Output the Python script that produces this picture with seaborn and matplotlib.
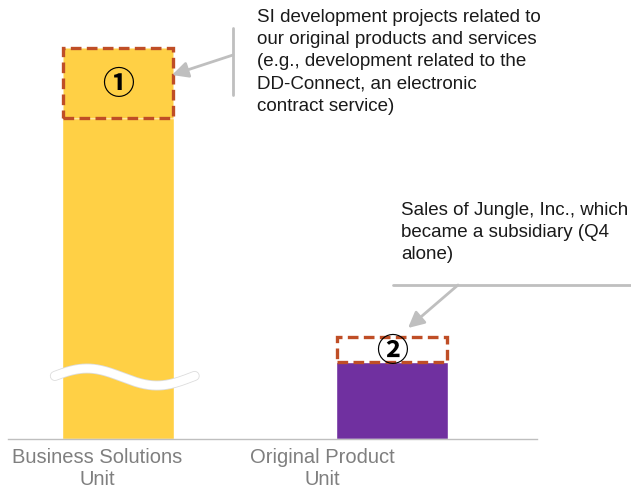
import numpy as np
import matplotlib
matplotlib.use("Agg")
import matplotlib.pyplot as plt
import matplotlib.patheffects as pe
import seaborn as sns
import pandas as pd

# Segment sizes (relative units)
categories = ["Business Solutions\nUnit", "Original Product\nUnit"]
base_values = [321, 77]
highlight_values = [70, 25]
bar_colors = ["#FFD045", "#7030A0"]
highlight_fill = ["#FFD045", "#FFFFFF"]
markers = ["①", "②"]
note_texts = [
    "SI development projects related to\nour original products and services\n(e.g., development related to the\nDD-Connect, an electronic\ncontract service)",
    "Sales of Jungle, Inc., which\nbecame a subsidiary (Q4\nalone)",
]

sns.set_theme(style="white")
plt.rcParams["font.family"] = ["Liberation Sans", "DejaVu Sans"]

W, H = 631, 493
fig = plt.figure(figsize=(W / 100, H / 100), dpi=100)
ax = fig.add_axes([8 / W, 54 / H, 529 / W, 439 / H])

df = pd.DataFrame({"unit": categories, "value": base_values})
bar_w = 0.41
sns.barplot(data=df, x="unit", y="value", hue="unit", palette=bar_colors,
            width=bar_w, legend=False, saturation=1, ax=ax)

# Highlighted top segments outlined with dashed boxes
dash_color = "#BF4E26"
for i, (b, h) in enumerate(zip(base_values, highlight_values)):
    ax.bar(i, h, bottom=b, width=bar_w - 0.01, color=highlight_fill[i],
           edgecolor=dash_color, linewidth=2.4, linestyle=(0, (3.2, 1.6)),
           zorder=3)
    ax.text(i, b + h / 2 - 2, markers[i], ha="center", va="center",
            fontsize=23, fontweight="bold", color="black", zorder=4,
            family=["Noto Sans CJK JP", "DejaVu Sans"])

# Wavy break mark on the tall bar
t = np.linspace(0, 1, 200)
wx = -0.23 + 0.51 * t
wy = 62 + 8.5 * np.cos(2 * np.pi * (t - 0.23))
ax.plot(wx, wy, color="white", lw=6, solid_capstyle="round", zorder=5,
        path_effects=[pe.Stroke(linewidth=7.2, foreground="#DDDDDD"), pe.Normal()])

ax.set_xlim(-0.401, 1.529)
ax.set_ylim(0, 439)
sns.despine(ax=ax, left=True, top=True, right=True)
ax.spines["bottom"].set_color("#BFBFBF")
ax.spines["bottom"].set_linewidth(1.0)
ax.set_yticks([])
ax.set_xticks([])
ax.set_xlabel("")
ax.set_ylabel("")

# Category labels under the baseline
label_x = [97, 322]
for lx, lab in zip(label_x, categories):
    fig.text(lx / W, 1 - 448 / H, lab, ha="center", va="top", fontsize=14.5,
             color="#7F7F7F", linespacing=1.22)

# Callouts
line_c = "#BFBFBF"
fig.add_artist(plt.Line2D([233 / W, 233 / W], [1 - 28 / H, 1 - 95 / H],
                          color=line_c, lw=2, transform=fig.transFigure))
ax.annotate("", xy=(172, H - 75), xycoords="figure pixels",
            xytext=(233, H - 55), textcoords="figure pixels",
            arrowprops=dict(arrowstyle="-|>", color=line_c, lw=2,
                            mutation_scale=24, shrinkA=0, shrinkB=0))
fig.add_artist(plt.Line2D([393 / W, 1.0], [1 - 285 / H, 1 - 285 / H],
                          color=line_c, lw=2, transform=fig.transFigure))
ax.annotate("", xy=(408, H - 328), xycoords="figure pixels",
            xytext=(458, H - 285), textcoords="figure pixels",
            arrowprops=dict(arrowstyle="-|>", color=line_c, lw=2,
                            mutation_scale=24, shrinkA=0, shrinkB=0))

fig.text(257 / W, 1 - 9 / H, note_texts[0], ha="left", va="top",
         fontsize=13.5, color="#1A1A1A", linespacing=1.4)
fig.text(401 / W, 1 - 202 / H, note_texts[1], ha="left", va="top",
         fontsize=13.5, color="#1A1A1A", linespacing=1.4)

fig.savefig("out.png", dpi=100)
